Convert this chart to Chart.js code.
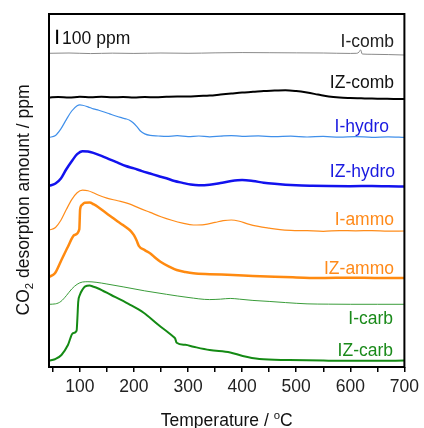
<!DOCTYPE html>
<html>
<head>
<meta charset="utf-8">
<script src="https://cdn.jsdelivr.net/npm/chart.js@4.4.1/dist/chart.umd.min.js"></script>
<style>
  html, body { margin: 0; padding: 0; background: #fff; }
  canvas { display: block; }
</style>
</head>
<body>
<canvas id="tpd" width="424" height="428"></canvas>
<script>
// TPD profiles, CO2 signal in ppm above each trace's own baseline
var sampleNames = ['I-comb', 'IZ-comb', 'I-hydro', 'IZ-hydro', 'I-ammo', 'IZ-ammo', 'I-carb', 'IZ-carb'];
// vertical stacking offset of each trace (ppm)
var stackOffsets = [2184, 1876, 1607, 1264, 952, 623, 439, 42];

var tempIComb = [43, 80, 120, 160, 200, 250, 300, 350, 400, 450, 500, 550, 600, 612, 616, 619, 622, 640, 670, 700];
var ppmIComb  = [12, 14, 10, 13, 11, 14, 12, 15, 17, 16, 15, 14, 11, 12, 20, 36, 7, 5, 3, 0];

var tempIZComb = [43, 60, 80, 100, 120, 140, 160, 180, 200, 220, 240, 260, 280, 300, 320, 340, 360, 380, 400, 420, 440, 460, 480, 500, 520, 540, 560, 580, 600, 620, 640, 660, 680, 700];
var ppmIZComb  = [10, 14, 10, 15, 12, 15, 12, 14, 10, 14, 12, 15, 17, 17, 21, 24, 31, 38, 45, 50, 56, 59, 62, 56, 45, 31, 17, 10, 7, 5, 3, 2, 0, 0];

var tempIHydro = [43, 55, 65, 75, 85, 95, 100, 105, 115, 125, 135, 145, 155, 165, 175, 185, 192, 198, 205, 212, 220, 230, 245, 260, 280, 300, 320, 340, 360, 380, 400, 430, 460, 490, 520, 550, 580, 610, 640, 670, 700];
var ppmIHydro  = [0, 14, 60, 125, 185, 222, 228, 225, 214, 200, 190, 178, 165, 152, 140, 130, 120, 104, 78, 45, 25, 14, 10, 7, 12, 6, 10, 4, 9, 13, 8, 11, 5, 9, 3, 7, 2, 6, 1, 4, 0];

var tempIZHydro = [43, 55, 65, 75, 85, 95, 105, 115, 125, 140, 155, 170, 185, 200, 215, 230, 245, 260, 275, 290, 305, 320, 340, 360, 380, 400, 420, 440, 460, 480, 500, 530, 560, 600, 640, 670, 700];
var ppmIZHydro  = [3, 20, 55, 120, 176, 226, 247, 245, 235, 214, 190, 166, 143, 126, 107, 90, 73, 57, 38, 25, 13, 8, 12, 24, 38, 45, 38, 26, 18, 12, 8, 5, 3, 2, 3, 1, 0];

var tempIAmmo = [43, 55, 65, 75, 85, 95, 105, 115, 125, 135, 150, 170, 190, 210, 230, 250, 270, 290, 310, 330, 350, 365, 380, 395, 410, 430, 450, 470, 490, 520, 550, 580, 610, 640, 670, 700];
var ppmIAmmo  = [6, 25, 75, 150, 220, 268, 286, 282, 268, 250, 230, 212, 192, 160, 130, 100, 75, 55, 42, 45, 60, 72, 77, 68, 50, 32, 20, 10, 5, 2, -2, 3, 1, 3, -1, 0];

var tempIZAmmo = [43, 54, 66, 78, 90, 99, 100.5, 104, 109, 118, 126, 133, 145, 158, 170, 180, 188, 195, 200, 205, 209, 220, 231, 240, 249, 265, 279, 295, 310, 340, 383, 420, 460, 500, 548, 600, 650, 700];
var ppmIZAmmo  = [8, 33, 126, 219, 301, 341, 480, 512, 527, 528, 515, 499, 465, 429, 395, 370, 348, 325, 300, 262, 225, 195, 170, 140, 114, 80, 56, 42, 33, 27, 21, 14, 8, 4, 0, 2, 0, 0];

var tempICarb = [43, 55, 65, 75, 85, 95, 105, 115, 130, 150, 180, 220, 260, 300, 340, 360, 378, 395, 420, 450, 480, 520, 560, 600, 650, 700];
var ppmICarb  = [0, 3, 20, 60, 107, 140, 156, 158, 154, 142, 122, 94, 70, 48, 33, 36, 41, 36, 27, 20, 12, 3, 1, 0, 0, 0];

var tempIZCarb = [43, 54, 66, 78, 87, 94, 95.5, 97, 100, 105, 110, 118, 125, 133, 158, 190, 218, 245, 273, 276, 279, 295, 310, 340, 378, 401, 432, 487, 550, 600, 650, 700];
var ppmIZCarb  = [2, 12, 42, 112, 194, 212, 300, 413, 462, 500, 522, 528, 520, 509, 462, 400, 338, 254, 170, 159, 128, 113, 100, 77, 60, 35, 14, 7, 3, 1, 1, 3];

var xTicks = [50, 100, 150, 200, 250, 300, 350, 400, 450, 500, 550, 600, 650, 700];
var scaleBarPpm = 100;

var temps = [tempIComb, tempIZComb, tempIHydro, tempIZHydro, tempIAmmo, tempIZAmmo, tempICarb, tempIZCarb];
var signals = [ppmIComb, ppmIZComb, ppmIHydro, ppmIZHydro, ppmIAmmo, ppmIZAmmo, ppmICarb, ppmIZCarb];

var lineColors  = ['#8a8a8a', '#000000', '#3f8fea', '#1212ee', '#ff8c1a', '#ff8a10', '#3a9c3a', '#148a14'];
var lineWidths  = [1, 2, 1.2, 2.5, 1.2, 2.5, 1, 2];
var labelColors = ['#222222', '#111111', '#1a1ae0', '#1a1ae0', '#ff8a1a', '#ff8a1a', '#1a8a1a', '#1a8a1a'];
// label baseline relative to the trace end, and right edge of each label
var labelShift = [-8.5, -11, -5.5, -9.5, -6, -4.5, 20, -5];
var labelRight = [394, 394, 389, 395, 394, 394, 393, 393];

var FONT = '"Liberation Sans", Arial, sans-serif';

var datasets = sampleNames.map(function(name, i) {
    return {
        label: name,
        data: temps[i].map(function(t, j) { return { x: t, y: signals[i][j] + stackOffsets[i] }; }),
        borderColor: lineColors[i],
        borderWidth: lineWidths[i],
        pointRadius: 0,
        fill: false,
        cubicInterpolationMode: 'monotone'
    };
});

// draws text pieces in a row, some of them shifted as sub/superscript
function drawRuns(ctx, runs, size) {
    var total = 0;
    runs.forEach(function(r) {
        ctx.font = (r.small ? size * 0.65 : size) + 'px ' + FONT;
        r.w = ctx.measureText(r.t).width;
        total += r.w;
    });
    var x = -total / 2;
    runs.forEach(function(r) {
        ctx.font = (r.small ? size * 0.65 : size) + 'px ' + FONT;
        ctx.fillText(r.t, x, r.dy || 0);
        x += r.w;
    });
}

var decor = {
    id: 'decor',
    afterDraw: function(chart) {
        var ctx = chart.ctx;
        var a = chart.chartArea;
        var xs = chart.scales.x, ys = chart.scales.y;
        ctx.save();

        // frame
        ctx.strokeStyle = '#000';
        ctx.lineWidth = 2;
        ctx.strokeRect(a.left, a.top, a.right - a.left, a.bottom - a.top);

        // trace names
        ctx.font = '17.5px ' + FONT;
        ctx.textAlign = 'right';
        ctx.textBaseline = 'alphabetic';
        sampleNames.forEach(function(name, i) {
            var y = ys.getPixelForValue(stackOffsets[i]) + labelShift[i];
            ctx.fillStyle = labelColors[i];
            ctx.fillText(name, labelRight[i], y);
        });

        // 100 ppm scale bar
        var bx = xs.getPixelForValue(58);
        var b0 = ys.getPixelForValue(2261);
        var b1 = ys.getPixelForValue(2261 + scaleBarPpm);
        ctx.beginPath();
        ctx.lineWidth = 2;
        ctx.moveTo(bx, b0);
        ctx.lineTo(bx, b1);
        ctx.stroke();
        ctx.fillStyle = '#111';
        ctx.textAlign = 'left';
        ctx.fillText(scaleBarPpm + ' ppm', bx + 5, b0);

        // axis titles
        ctx.fillStyle = '#111';
        ctx.textAlign = 'left';
        ctx.save();
        ctx.translate((a.left + a.right) / 2, 426);
        drawRuns(ctx, [{ t: 'Temperature / ' }, { t: 'o', small: true, dy: -7 }, { t: 'C' }], 17.5);
        ctx.restore();

        ctx.save();
        ctx.translate(29, 200);
        ctx.rotate(-Math.PI / 2);
        drawRuns(ctx, [{ t: 'CO' }, { t: '2', small: true, dy: 4 }, { t: ' desorption amount / ppm' }], 17.5);
        ctx.restore();

        ctx.restore();
    }
};

new Chart(document.getElementById('tpd'), {
    type: 'line',
    data: { datasets: datasets },
    plugins: [decor],
    options: {
        responsive: false,
        animation: false,
        devicePixelRatio: 1,
        layout: { padding: { left: 49, right: 16, top: 14, bottom: 0 } },
        plugins: { legend: { display: false }, tooltip: { enabled: false } },
        scales: {
            x: {
                type: 'linear',
                min: 43,
                max: 700,
                afterBuildTicks: function(s) { s.ticks = xTicks.map(function(v) { return { value: v }; }); },
                afterFit: function(s) { s.height = 61; },
                grid: { drawOnChartArea: false, drawTicks: true, tickLength: 5, color: '#000', lineWidth: 1.5 },
                border: { display: false },
                ticks: {
                    autoSkip: false,
                    maxRotation: 0,
                    padding: 5,
                    color: '#222',
                    font: { family: FONT, size: 17.5 },
                    callback: function(v) { return v % 100 === 0 ? v : ''; }
                }
            },
            y: { type: 'linear', display: false, min: 0, max: 2471 }
        }
    }
});
</script>
</body>
</html>
